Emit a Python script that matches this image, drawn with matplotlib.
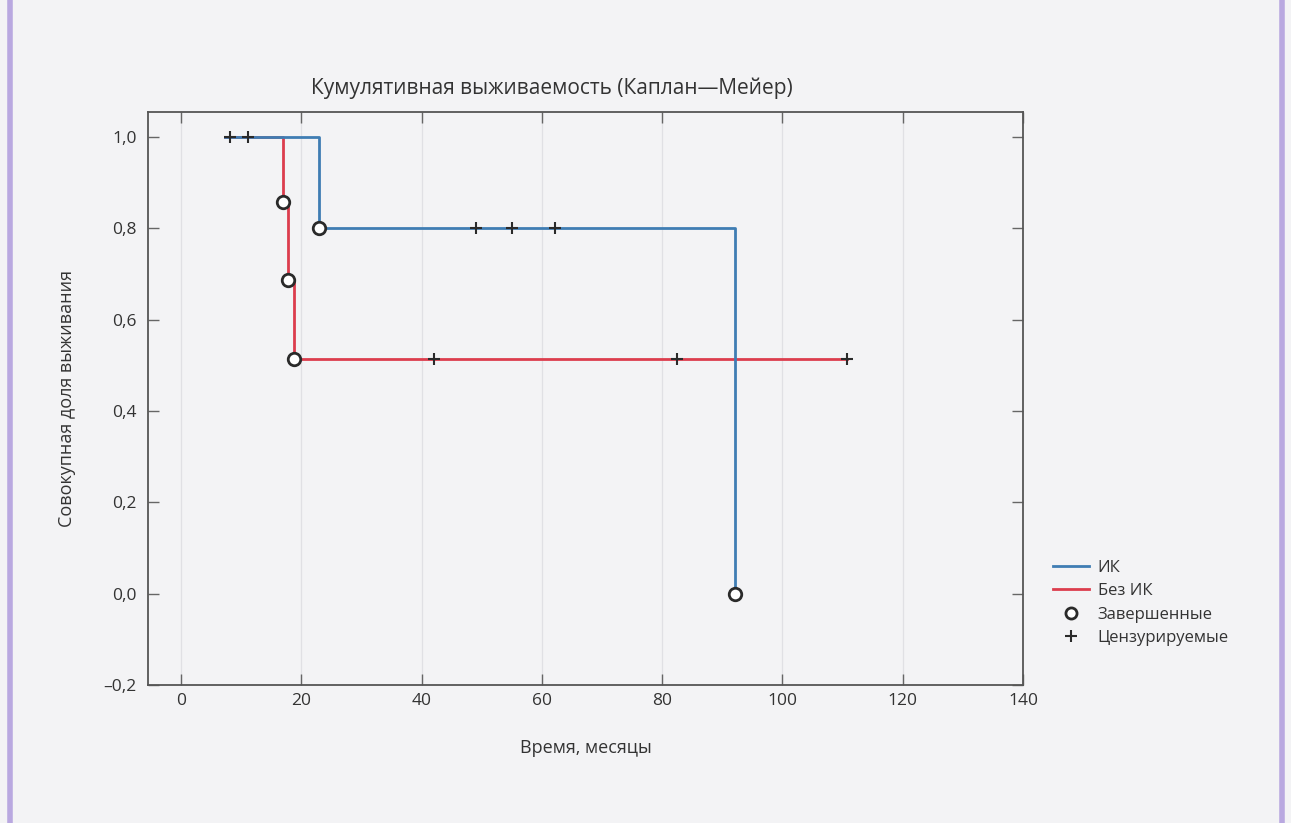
import matplotlib.pyplot as plt
from matplotlib.lines import Line2D
import numpy as np

plt.rcParams['font.family'] = ['Open Sans', 'DejaVu Sans']

# Kaplan-Meier curves, months vs survival share
ik_times = [7.3, 22.9, 92.1]
ik_surv = [1.0, 0.8, 0.0]
ik_events_t = [22.9, 92.1]
ik_events_s = [0.8, 0.0]
ik_cens_t = [8.1, 11.1, 49.1, 55.0, 62.2]
ik_cens_s = [1.0, 1.0, 0.8, 0.8, 0.8]

noik_times = [7.3, 16.9, 17.8, 18.8, 110.8]
noik_surv = [1.0, 0.857, 0.686, 0.514, 0.514]
noik_events_t = [16.9, 17.8, 18.8]
noik_events_s = [0.857, 0.686, 0.514]
noik_cens_t = [42.1, 82.4, 110.8]
noik_cens_s = [0.514, 0.514, 0.514]

x_ticks = [0, 20, 40, 60, 80, 100, 120, 140]
y_ticks = [-0.2, 0.0, 0.2, 0.4, 0.6, 0.8, 1.0]
y_tick_labels = ['–0,2', '0,0', '0,2', '0,4', '0,6', '0,8', '1,0']

BLUE = '#3f7db3'
RED = '#dc3d4d'
DARK = '#2a2a2a'
BG = '#f3f3f5'

fig = plt.figure(figsize=(12.91, 8.23), dpi=100, facecolor=BG)
ax = fig.add_axes([148 / 1291, 1 - 685 / 823, 875 / 1291, 573 / 823])
ax.set_facecolor(BG)

ax.step(noik_times, noik_surv, where='post', color=RED, lw=2.0, zorder=3)
ax.step(ik_times, ik_surv, where='post', color=BLUE, lw=2.0, zorder=4)

for et, es in [(noik_events_t, noik_events_s), (ik_events_t, ik_events_s)]:
    ax.plot(et, es, 'o', ms=9, mfc='white', mec=DARK, mew=2.0, zorder=6, ls='none')
for ct, cs in [(noik_cens_t, noik_cens_s), (ik_cens_t, ik_cens_s)]:
    ax.plot(ct, cs, '+', ms=9, mec=DARK, mew=1.5, zorder=5, ls='none')

ax.set_xlim(-5.5, 140)
ax.set_ylim(-0.2, 1.055)
ax.set_xticks(x_ticks)
ax.set_yticks(y_ticks)
ax.set_yticklabels(y_tick_labels)
ax.xaxis.grid(True, color='#e0e0e4', lw=0.9)
ax.tick_params(direction='in', length=8, width=1.0, colors='#666666',
               labelcolor='#333333', labelsize=12.5, top=True, right=True)
ax.tick_params(axis='x', pad=6)
ax.tick_params(axis='y', pad=8)
for s in ax.spines.values():
    s.set_color('#555555')
    s.set_linewidth(1.3)

ax.set_xlabel('Время, месяцы', fontsize=13, color='#333333')
ax.xaxis.set_label_coords(0.5, -0.095)
ax.set_ylabel('Совокупная доля выживания', fontsize=13, color='#333333')
ax.yaxis.set_label_coords(-0.082, 0.5)

fig.text(552 / 1291, 1 - 88 / 823, 'Кумулятивная выживаемость (Каплан—Мейер)',
         ha='center', va='center', fontsize=15, color='#333333')

handles = [
    Line2D([], [], color=BLUE, lw=2.0),
    Line2D([], [], color=RED, lw=2.0),
    Line2D([], [], marker='o', ls='none', ms=8, mfc='white', mec=DARK, mew=2.0),
    Line2D([], [], marker='+', ls='none', ms=9, mec=DARK, mew=1.5),
]
labels = ['ИК', 'Без ИК', 'Завершенные', 'Цензурируемые']
fig.legend(handles, labels, loc='upper left', bbox_to_anchor=(1046 / 1291, 1 - 553 / 823),
           frameon=False, fontsize=12, handlelength=2.2, handletextpad=0.5,
           labelspacing=0.45, borderaxespad=0, labelcolor='#333333')

# lavender page frame at the sides
for xf in (10 / 1291, 1282 / 1291):
    fig.add_artist(Line2D([xf, xf], [0, 1], transform=fig.transFigure,
                          color='#b9a8e0', lw=4))

fig.savefig('out.png', dpi=100, facecolor=BG)
